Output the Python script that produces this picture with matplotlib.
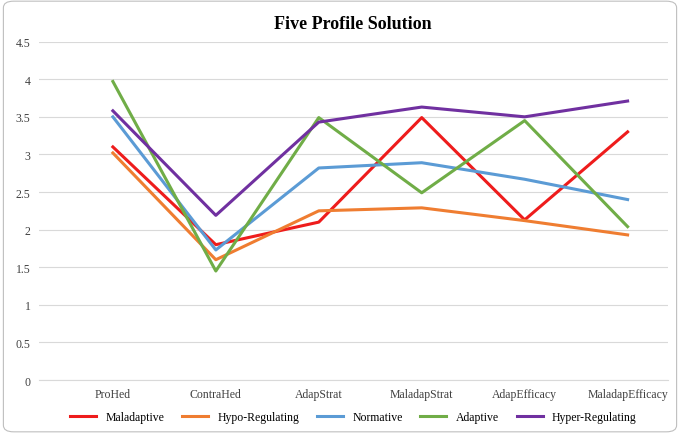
import matplotlib.pyplot as plt
from matplotlib.patches import FancyBboxPatch

categories = ["ProHed", "ContraHed", "AdapStrat", "MaladapStrat", "AdapEfficacy", "MaladapEfficacy"]
maladaptive = [3.10, 1.80, 2.10, 3.49, 2.13, 3.30]
hypo = [3.02, 1.60, 2.25, 2.29, 2.12, 1.93]
normative = [3.50, 1.73, 2.82, 2.89, 2.67, 2.40]
adaptive = [3.97, 1.45, 3.49, 2.49, 3.45, 2.04]
hyper = [3.58, 2.19, 3.43, 3.63, 3.50, 3.71]

series = [
    ("Maladaptive", maladaptive, "#ee1c1c"),
    ("Hypo-Regulating", hypo, "#ef7d31"),
    ("Normative", normative, "#5b9bd5"),
    ("Adaptive", adaptive, "#70ad47"),
    ("Hyper-Regulating", hyper, "#7030a0"),
]

plt.rcParams['font.family'] = ['Liberation Serif', 'DejaVu Serif']
fig = plt.figure(figsize=(6.8, 4.35), dpi=100)
fig.patches.append(FancyBboxPatch((0.005, 0.005), 0.99, 0.99, boxstyle="round,pad=0,rounding_size=0.015",
                                  transform=fig.transFigure, fill=False, edgecolor="#bfbfbf", lw=0.8))
ax = fig.add_axes([0.057, 0.124, 0.925, 0.778])
x = range(len(categories))
for name, vals, c in series:
    ax.plot(x, vals, color=c, lw=2.2, label=name)
ax.set_xlim(-0.72, len(categories) - 0.61)
ax.set_ylim(0, 4.5)
ax.set_yticks([i * 0.5 for i in range(10)])
ax.set_yticklabels(["0", "0.5", "1", "1.5", "2", "2.5", "3", "3.5", "4", "4.5"])
ax.set_xticks(list(x))
ax.set_xticklabels(categories)
ax.grid(axis="y", color="#d9d9d9", lw=0.8)
ax.set_axisbelow(True)
for s in ["top", "right", "left"]:
    ax.spines[s].set_visible(False)
ax.spines["bottom"].set_color("#d9d9d9")
ax.tick_params(length=0, labelsize=8.5, colors="#404040", pad=6)
ax.set_title("Five Profile Solution", fontsize=13, fontweight="bold", pad=10)
ax.legend(loc="upper center", bbox_to_anchor=(0.5, -0.06), ncol=5, frameon=False,
          fontsize=8.5, handlelength=2.2, columnspacing=1.5)
fig.savefig("out.png", dpi=100)
